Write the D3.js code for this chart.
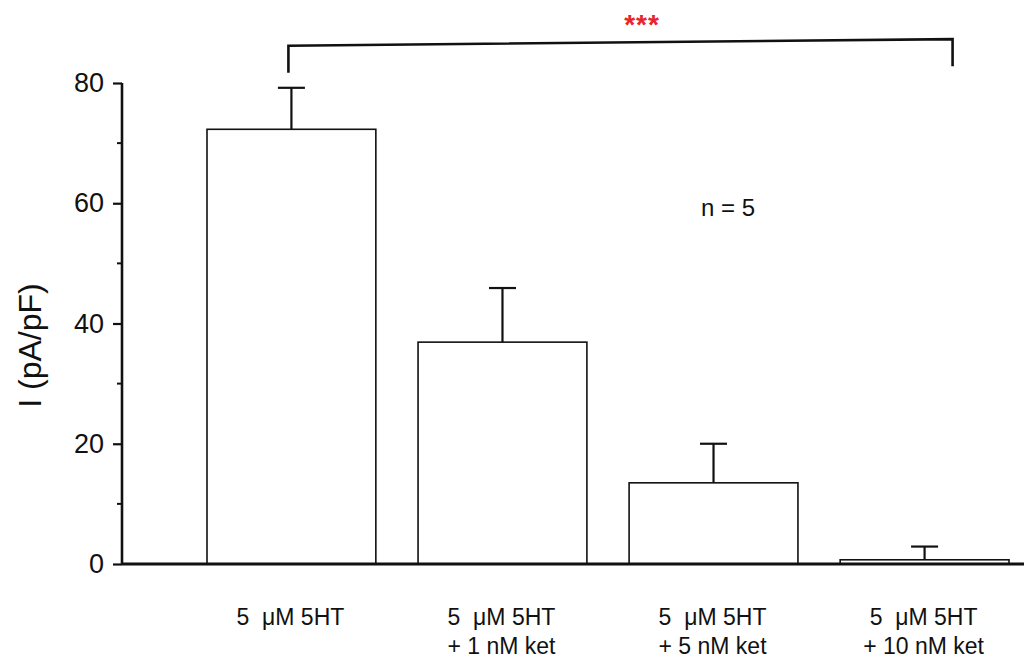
<!DOCTYPE html>
<html>
<head>
<meta charset="utf-8">
<script src="https://cdn.jsdelivr.net/npm/d3@7"></script>
<style>
  html, body { margin: 0; padding: 0; background: #fff; }
  svg { display: block; font-family: "Liberation Sans", Arial, sans-serif; }
  text { white-space: pre; }
</style>
</head>
<body>
<svg id="chart" width="1024" height="663"></svg>
<script>
// Current density after 5-HT, alone and with increasing ketanserin
const categories = ["c1", "c2", "c3", "c4"];
const labelLine1 = ["5  \u03BCM 5HT", "5  \u03BCM 5HT", "5  \u03BCM 5HT", "5  \u03BCM 5HT"];
const labelLine2 = ["", "+ 1 nM ket", "+ 5 nM ket", "+ 10 nM ket"];
const means = [72.3, 36.9, 13.5, 0.7];
const errors = [6.9, 9.0, 6.5, 2.2];
const yTicks = [0, 20, 40, 60, 80];
const yMinorTicks = [10, 30, 50, 70];

const svg = d3.select("#chart");

const y = d3.scaleLinear().domain([0, 80]).range([564, 83]);
const x = d3.scaleBand().domain(categories).range([207, 1009])
  .paddingInner(0.2).paddingOuter(0);
const axisX = 122;

// Bars
svg.append("g").selectAll("rect").data(categories).join("rect")
  .attr("x", d => x(d))
  .attr("y", (d, i) => y(means[i]))
  .attr("width", x.bandwidth())
  .attr("height", (d, i) => y(0) - y(means[i]))
  .attr("fill", "#fff")
  .attr("stroke", "#111")
  .attr("stroke-width", 1.6);

// Error bars (upper only)
const capW = 27;
const eb = svg.append("g").attr("stroke", "#111").attr("stroke-width", 2.2);
categories.forEach((c, i) => {
  const cx = x(c) + x.bandwidth() / 2;
  eb.append("line").attr("x1", cx).attr("x2", cx)
    .attr("y1", y(means[i])).attr("y2", y(means[i] + errors[i]));
  eb.append("line").attr("x1", cx - capW / 2).attr("x2", cx + capW / 2)
    .attr("y1", y(means[i] + errors[i])).attr("y2", y(means[i] + errors[i]));
});

// Baseline
svg.append("line")
  .attr("x1", axisX).attr("x2", 1024)
  .attr("y1", y(0)).attr("y2", y(0))
  .attr("stroke", "#111").attr("stroke-width", 3);

// Y axis
const yAxis = d3.axisLeft(y).tickValues(yTicks).tickSize(9).tickPadding(9)
  .tickFormat(d3.format("d"));
const gy = svg.append("g").attr("transform", `translate(${axisX},0)`).call(yAxis);
gy.select(".domain").attr("stroke", "#111").attr("stroke-width", 2.6)
  .attr("d", `M0,${y(80)}V${y(0)}`);
gy.selectAll(".tick line").attr("stroke", "#111").attr("stroke-width", 2.2);
gy.selectAll(".tick text").attr("font-size", 27).attr("fill", "#111")
  .attr("font-family", "Liberation Sans, Arial, sans-serif");
gy.selectAll(".minor").data(yMinorTicks).join("line")
  .attr("class", "minor")
  .attr("x1", -5).attr("x2", 0)
  .attr("y1", d => y(d)).attr("y2", d => y(d))
  .attr("stroke", "#111").attr("stroke-width", 2);

// Y axis title
svg.append("text")
  .attr("transform", `translate(41,${(y(0) + y(80)) / 2 + 22}) rotate(-90)`)
  .attr("text-anchor", "middle")
  .attr("font-size", 32).attr("fill", "#111")
  .text("I (pA/pF)");

// Category labels
const lab = svg.append("g").attr("font-size", 23).attr("fill", "#111")
  .attr("text-anchor", "middle");
categories.forEach((c, i) => {
  const cx = x(c) + x.bandwidth() / 2;
  lab.append("text").attr("x", cx - 1).attr("y", 625).text(labelLine1[i]);
  if (labelLine2[i]) lab.append("text").attr("x", cx - 1).attr("y", 654).text(labelLine2[i]);
});

// Sample size
svg.append("text").attr("x", 728).attr("y", 216)
  .attr("text-anchor", "middle").attr("font-size", 24).attr("fill", "#111")
  .text("n = 5");

// Significance bracket between the first and last groups
const bxL = x(categories[0]) + x.bandwidth() / 2 - 3;
const bxR = x(categories[3]) + x.bandwidth() / 2 + 28;
svg.append("path")
  .attr("d", `M${bxL},${y(81.7)}V${y(86.2)}L${bxR},${y(87.3)}V${y(82.8)}`)
  .attr("fill", "none").attr("stroke", "#111").attr("stroke-width", 2.6);

svg.append("text").attr("x", 642).attr("y", 34)
  .attr("text-anchor", "middle").attr("font-size", 28).attr("font-weight", "bold")
  .attr("fill", "#e8262a").attr("letter-spacing", 1)
  .text("***");
</script>
</body>
</html>
